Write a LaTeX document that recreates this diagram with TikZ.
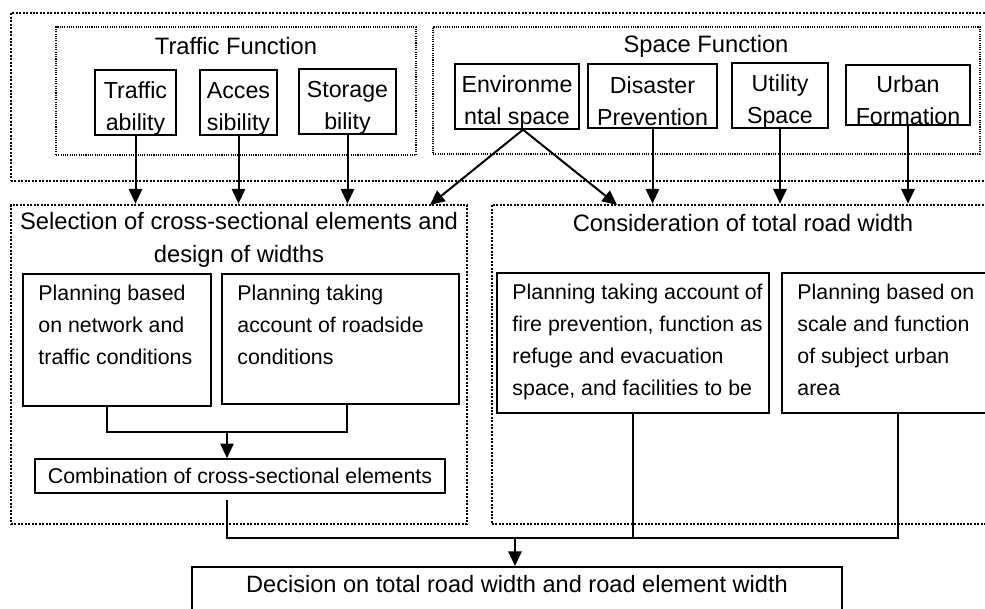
\documentclass[tikz,border=0pt]{standalone}
\usepackage{fontspec}
\setmainfont{Liberation Sans}
\usetikzlibrary{positioning,arrows.meta}

\tikzset{
  bigframe/.style={draw,line width=2pt,dash pattern=on 1.5pt off 1.1pt,inner sep=0pt},
  smallframe/.style={draw,line width=0.8pt,dash pattern=on 0.8pt off 0.9pt,inner sep=0pt},
  funcbox/.style={draw,line width=1.2pt,inner sep=0pt,align=center,text height=45pt,
    font=\fontsize{17.4}{24}\selectfont},
  planbox/.style={draw,line width=1.2pt,inner sep=0pt},
  plantext/.style={inner sep=0pt,align=left,font=\fontsize{16}{24}\selectfont},
  headtext/.style={inner sep=0pt,align=center,font=\fontsize{17.8}{24.75}\selectfont},
  link/.style={line width=1.5pt},
  arr/.style={line width=1.5pt,-{Triangle[length=11pt,width=10pt]}}
}

\begin{document}
\begin{tikzpicture}[x=0.75pt,y=-0.75pt]
  \useasboundingbox (0,0) rectangle (985,609);
  \clip (0,0) rectangle (985,609);

  % Road functions (top band)
  \node[bigframe,minimum width=745.5pt,minimum height=126pt] (outer) at (508,97) {};

  % Traffic function
  \node[smallframe,minimum width=270pt,minimum height=96pt] (trafgroup) at (236,91) {};
  \node[headtext] (traftitle) at (236,46) {Traffic Function};
  \node[funcbox,minimum width=60.75pt,minimum height=47.25pt] (trafab) at (135.5,102.5) {Traffic\\ability};
  \node[funcbox,minimum width=57.75pt,minimum height=47.25pt] (acces) at (238.5,102.5) {Acces\\sibility};
  \node[funcbox,minimum width=72.75pt,minimum height=47.25pt] (storage) at (347.5,101.5) {Storage\\bility};

  % Space function
  \node[smallframe,minimum width=410.25pt,minimum height=95.25pt] (spacegroup) at (706.5,90.5) {};
  \node[headtext] (spacetitle) at (706,46) {Space Function};
  \node[funcbox,minimum width=93pt,minimum height=45.75pt] (envir) at (517,96.5) {Environme\\ntal space};
  \node[funcbox,minimum width=96.75pt,minimum height=48pt] (disaster) at (652.5,96) {Disaster\\Prevention};
  \node[funcbox,minimum width=72pt,minimum height=45.75pt] (utility) at (780,95.5) {Utility\\Space};
  \node[funcbox,minimum width=93pt,minimum height=45pt] (urbanf) at (908,95) {Urban\\Formation};

  % Selection of cross-sectional elements
  \node[bigframe,minimum width=342pt,minimum height=239.25pt] (selbox) at (239,364.5) {};
  \node[headtext] (seltitle) at (239,239.5) {Selection of cross-sectional elements and\\design of widths};
  \node[planbox,minimum width=141pt,minimum height=99pt] (netbox) at (117,340) {};
  \node[plantext,below right=8.5pt and 12pt of netbox.north west] (nettext) {Planning based\\on network and\\traffic conditions};
  \node[planbox,minimum width=177.75pt,minimum height=97.5pt] (roadbox) at (340.5,339) {};
  \node[plantext,below right=8.5pt and 12pt of roadbox.north west] (roadtext) {Planning taking\\account of roadside\\conditions};
  \node[planbox,font=\fontsize{16}{24}\selectfont,minimum width=307.5pt,minimum height=25.5pt] (combo) at (240,476) {Combination of cross-sectional elements};

  % Consideration of total road width
  \node[bigframe,minimum width=388.5pt,minimum height=239.25pt] (consbox) at (751,364.5) {};
  \node[headtext] (constitle) at (743,223) {Consideration of total road width};
  \node[planbox,minimum width=204pt,minimum height=105pt] (firebox) at (633,343) {};
  \node[plantext,below right=8.5pt and 12pt of firebox.north west] (firetext) {Planning taking account of\\fire prevention, function as\\refuge and evacuation\\space, and facilities to be};
  \node[planbox,minimum width=174pt,minimum height=105pt] (urbanplan) at (898,343) {};
  \node[plantext,below right=8.5pt and 12pt of urbanplan.north west] (urbantext) {Planning based on\\scale and function\\of subject urban\\area};

  % Decision
  \node[planbox,font=\fontsize{17.7}{24}\selectfont,minimum width=487.5pt,text height=19.5pt,text depth=36pt,anchor=north] (decision) at (517,566) {Decision on total road width and road element width};

  % Arrows from the functions
  \foreach \f in {trafab,acces,storage}
    \draw[arr] (\f.south) -- (\f.south |- selbox.north);
  \foreach \f in {disaster,utility,urbanf}
    \draw[arr] (\f.south) -- (\f.south |- consbox.north);
  \coordinate (envL) at (430,205);
  \coordinate (envR) at (617,205);
  \draw[arr] ([xshift=4.5pt]envir.south) -- (envL);
  \draw[arr] ([xshift=4.5pt]envir.south) -- (envR);

  % Inside the selection frame
  \coordinate (joinA) at (227,432);
  \draw[link] ([xshift=-7.5pt]netbox.south) |- (joinA) -| ([xshift=5pt]roadbox.south);
  \draw[arr] (joinA) -- (joinA |- combo.north);

  % To the decision
  \coordinate (joinB) at (515,538);
  \draw[link,shorten <=4.5pt] ([xshift=-9.75pt]combo.south) |- (joinB) -| (urbanplan.south);
  \draw[link] (firebox.south) -- (firebox.south |- joinB);
  \draw[arr] (joinB) -- (joinB |- decision.north);
\end{tikzpicture}
\end{document}
